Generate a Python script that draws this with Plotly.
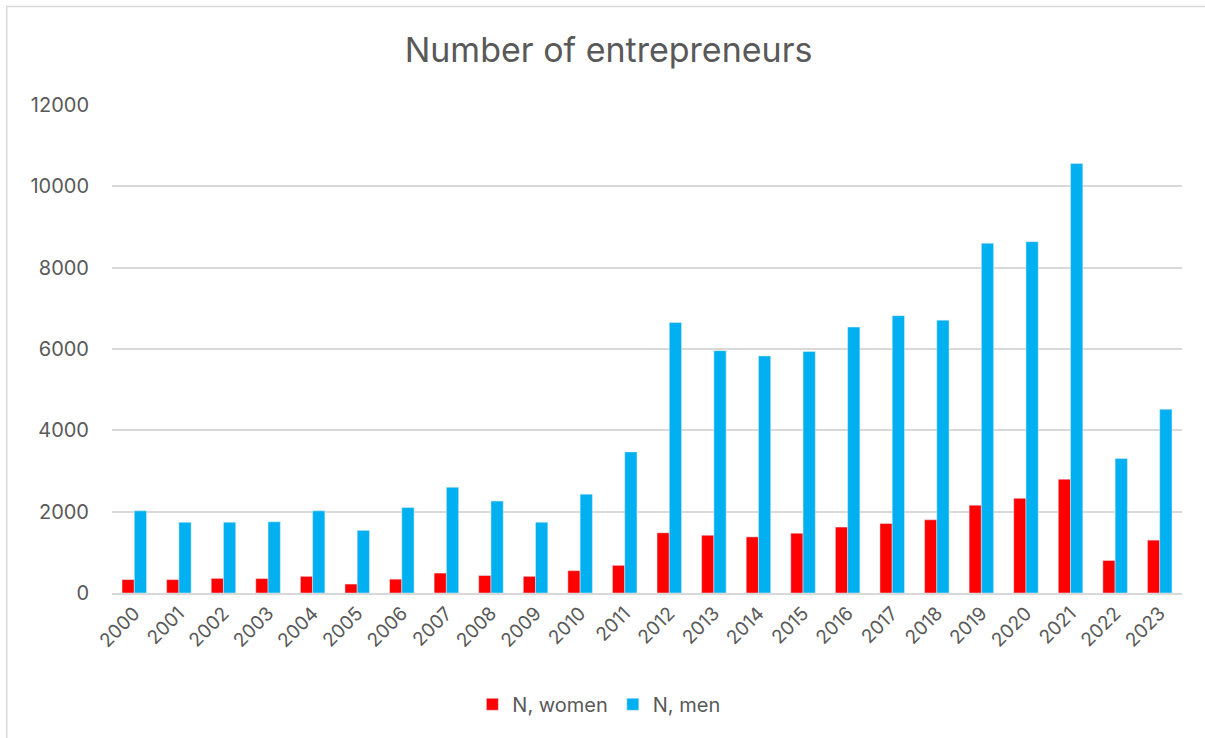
import plotly.graph_objects as go

years = [str(y) for y in range(2000, 2024)]
women = [330, 330, 360, 355, 410, 220, 340, 490, 430, 410, 550, 680,
         1480, 1420, 1380, 1470, 1620, 1710, 1800, 2160, 2330, 2800, 800, 1300]
men = [2020, 1740, 1740, 1750, 2020, 1540, 2100, 2600, 2260, 1740, 2430, 3470,
       6650, 5960, 5830, 5940, 6540, 6820, 6710, 8600, 8640, 10560, 3310, 4520]

font_family = "Inter, Open Sans, sans-serif"
grey = "#595959"

fig = go.Figure()
fig.add_trace(go.Bar(x=years, y=women, name="N, women", marker_color="#FF0000"))
fig.add_trace(go.Bar(x=years, y=men, name="N, men", marker_color="#00B0F0"))

fig.update_layout(
    width=1205, height=738,
    margin=dict(l=112, r=23, t=105, b=145),
    paper_bgcolor="white", plot_bgcolor="white",
    barmode="group", bargap=0.45, bargroupgap=0,
    font=dict(family=font_family, color=grey),
    title=dict(text="Number of entrepreneurs", x=0.505, xanchor="center",
               y=0.932, yanchor="middle", font=dict(size=34, color=grey)),
    legend=dict(orientation="h", x=0.455, xanchor="center", y=-0.228, yanchor="middle",
                font=dict(size=20, color=grey), traceorder="normal"),
    showlegend=True,
)
fig.update_yaxes(range=[0, 12000], dtick=2000, tickformat="d", showgrid=True,
                 gridcolor="#D9D9D9", gridwidth=1.5, zeroline=False,
                 tickfont=dict(size=20, color=grey), ticks="", ticklabelstandoff=22,
                 showline=False)
fig.update_xaxes(tickangle=-45, tickfont=dict(size=19, color=grey), showline=True,
                 linecolor="#D9D9D9", linewidth=1.5, ticks="")

# outer chart border (only top and left edges fall inside the picture)
fig.add_shape(type="rect", xref="paper", yref="paper",
              x0=-0.0984, x1=1.031, y0=-0.32, y1=1.2018,
              line=dict(color="#D9D9D9", width=1.5), fillcolor="rgba(0,0,0,0)", layer="below")

fig.write_html("out.html", config={"displayModeBar": False},
               post_script="document.body.style.margin='0';")
